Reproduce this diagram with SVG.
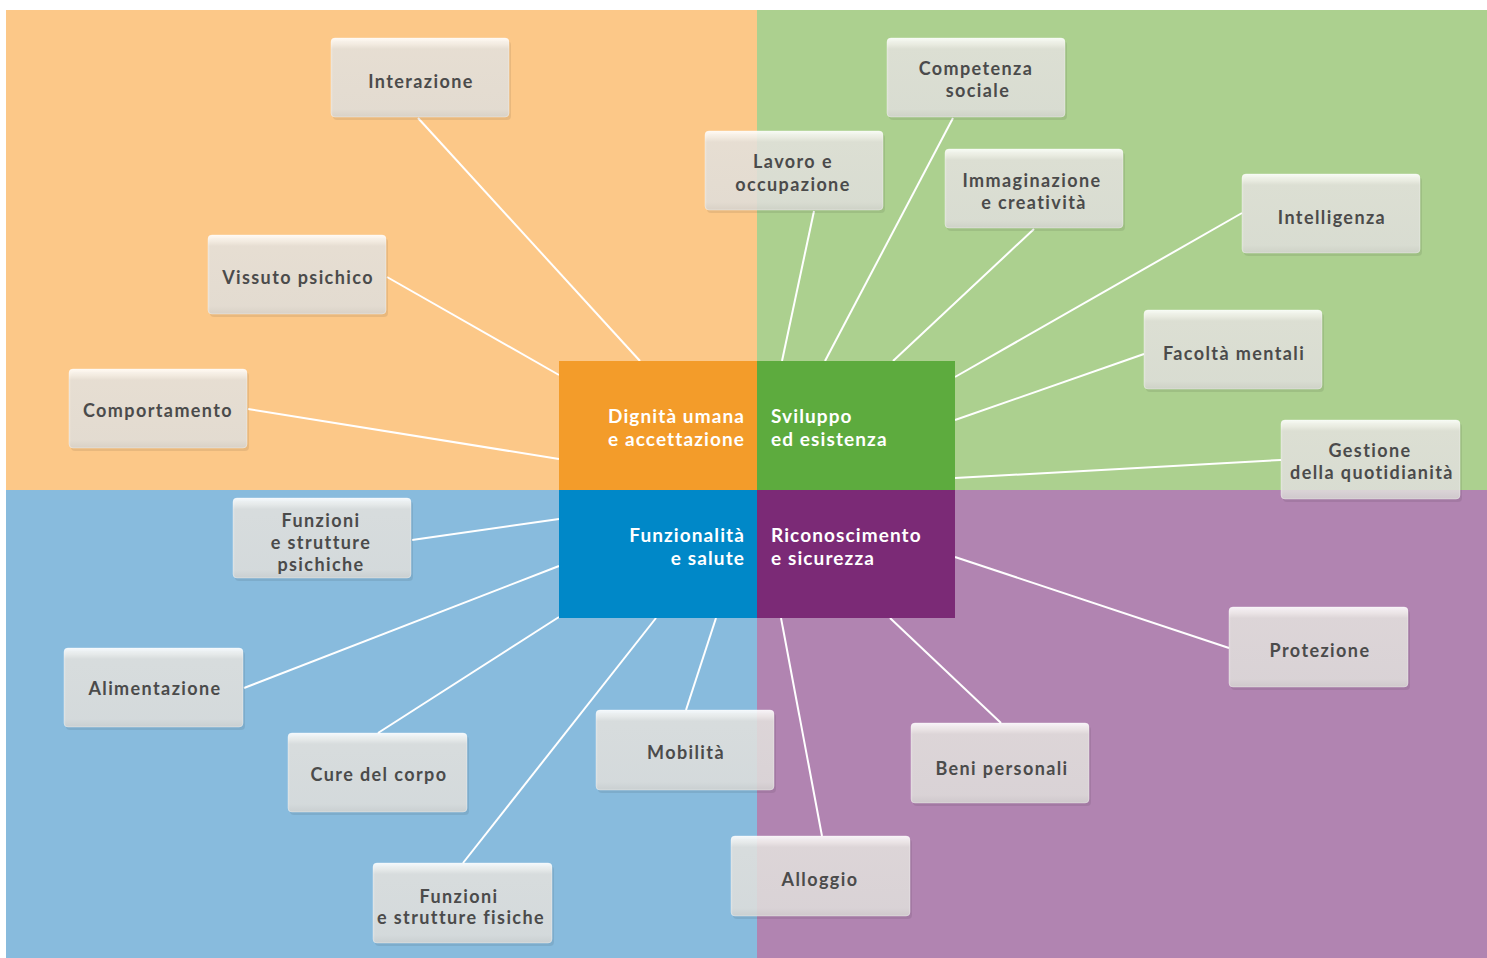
<svg xmlns="http://www.w3.org/2000/svg" width="1487" height="958" viewBox="0 0 1487 958">
<defs>
<linearGradient id="bx" x1="0" y1="0" x2="0" y2="1">
<stop offset="0" stop-color="#ffffff" stop-opacity="0.9"/>
<stop offset="0.08" stop-color="#f4f2ee" stop-opacity="0.88"/>
<stop offset="0.14" stop-color="#e6e4e0" stop-opacity="0.86"/>
<stop offset="0.9" stop-color="#e2e1de" stop-opacity="0.86"/>
<stop offset="1" stop-color="#d6d5d2" stop-opacity="0.86"/>
</linearGradient>
<style>
.bx{fill:url(#bx);stroke:#ffffff;stroke-opacity:0.35;stroke-width:1}
.sh{fill:#000;opacity:0.08}
.t{font-family:Lato,"Open Sans","Liberation Sans",sans-serif;font-weight:700;font-size:18px;letter-spacing:1.4px;fill:#4b4b4b;text-anchor:middle}
.c{font-family:Lato,"Open Sans","Liberation Sans",sans-serif;font-weight:700;font-size:19px;letter-spacing:1.1px;fill:#ffffff}
.r{text-anchor:end}
.ln{stroke:#ffffff;stroke-width:2;fill:none}
</style>
</defs>
<rect x="0" y="0" width="1487" height="958" fill="#ffffff"/>
<g id="background">
<rect x="6" y="10" width="751" height="480" fill="#fcc888"/>
<rect x="757" y="10" width="730" height="480" fill="#acd08f"/>
<rect x="6" y="490" width="751" height="468" fill="#88bbdd"/>
<rect x="757" y="490" width="730" height="468" fill="#b184b1"/>
</g>
<g id="connectors">
<line class="ln" x1="418" y1="118" x2="640" y2="361"/>
<line class="ln" x1="387" y1="277" x2="559" y2="375"/>
<line class="ln" x1="248" y1="409" x2="559" y2="459"/>
<line class="ln" x1="814" y1="211" x2="782" y2="361"/>
<line class="ln" x1="953" y1="118" x2="825" y2="361"/>
<line class="ln" x1="1034" y1="229" x2="893" y2="361"/>
<line class="ln" x1="1242" y1="213" x2="955" y2="377"/>
<line class="ln" x1="1144" y1="354" x2="955" y2="420"/>
<line class="ln" x1="1281" y1="460" x2="955" y2="478"/>
<line class="ln" x1="412" y1="540" x2="559" y2="519"/>
<line class="ln" x1="244" y1="688" x2="559" y2="566"/>
<line class="ln" x1="378" y1="733" x2="559" y2="617"/>
<line class="ln" x1="463" y1="863" x2="656" y2="618"/>
<line class="ln" x1="686" y1="710" x2="716" y2="618"/>
<line class="ln" x1="822" y1="836" x2="781" y2="618"/>
<line class="ln" x1="1001" y1="723" x2="890" y2="618"/>
<line class="ln" x1="1229" y1="648" x2="955" y2="557"/>
</g>
<g id="center">
<rect x="559" y="361" width="198" height="129" fill="#f39c2a"/>
<rect x="757" y="361" width="198" height="129" fill="#5dab3e"/>
<rect x="559" y="490" width="198" height="128" fill="#0088c8"/>
<rect x="757" y="490" width="198" height="128" fill="#7b2a76"/>
<text class="c r" x="745" y="423">Dignità umana</text>
<text class="c r" x="745" y="446">e accettazione</text>
<text class="c" x="771" y="423">Sviluppo</text>
<text class="c" x="771" y="446">ed esistenza</text>
<text class="c r" x="745" y="542">Funzionalità</text>
<text class="c r" x="745" y="565">e salute</text>
<text class="c" x="771" y="542">Riconoscimento</text>
<text class="c" x="771" y="565">e sicurezza</text>
</g>
<g id="n-interazione"><rect class="sh" x="333" y="41" width="178" height="79" rx="4"/><rect class="bx" x="331" y="38" width="178" height="79" rx="4"/><text class="t" x="421" y="88">Interazione</text></g>
<g id="n-competenza"><rect class="sh" x="889" y="41" width="178" height="79" rx="4"/><rect class="bx" x="887" y="38" width="178" height="79" rx="4"/><text class="t" x="976" y="75">Competenza</text><text class="t" x="978" y="97">sociale</text></g>
<g id="n-lavoro"><rect class="sh" x="707" y="134" width="178" height="79" rx="4"/><rect class="bx" x="705" y="131" width="178" height="79" rx="4"/><text class="t" x="793" y="168">Lavoro e</text><text class="t" x="793" y="191">occupazione</text></g>
<g id="n-immaginazione"><rect class="sh" x="947" y="152" width="178" height="79" rx="4"/><rect class="bx" x="945" y="149" width="178" height="79" rx="4"/><text class="t" x="1032" y="187">Immaginazione</text><text class="t" x="1034" y="209">e creatività</text></g>
<g id="n-intelligenza"><rect class="sh" x="1244" y="177" width="178" height="79" rx="4"/><rect class="bx" x="1242" y="174" width="178" height="79" rx="4"/><text class="t" x="1332" y="224">Intelligenza</text></g>
<g id="n-vissuto"><rect class="sh" x="210" y="238" width="178" height="79" rx="4"/><rect class="bx" x="208" y="235" width="178" height="79" rx="4"/><text class="t" x="298" y="284">Vissuto psichico</text></g>
<g id="n-facolta"><rect class="sh" x="1146" y="313" width="178" height="79" rx="4"/><rect class="bx" x="1144" y="310" width="178" height="79" rx="4"/><text class="t" x="1234" y="360">Facoltà mentali</text></g>
<g id="n-comportamento"><rect class="sh" x="71" y="372" width="178" height="79" rx="4"/><rect class="bx" x="69" y="369" width="178" height="79" rx="4"/><text class="t" x="158" y="417">Comportamento</text></g>
<g id="n-gestione"><rect class="sh" x="1283" y="423" width="179" height="79" rx="4"/><rect class="bx" x="1281" y="420" width="179" height="79" rx="4"/><text class="t" x="1370" y="457">Gestione</text><text class="t" x="1372" y="479">della quotidianità</text></g>
<g id="n-psichiche"><rect class="sh" x="235" y="501" width="178" height="80" rx="4"/><rect class="bx" x="233" y="498" width="178" height="80" rx="4"/><text class="t" x="321" y="527">Funzioni</text><text class="t" x="321" y="549">e strutture</text><text class="t" x="321" y="571">psichiche</text></g>
<g id="n-protezione"><rect class="sh" x="1231" y="610" width="179" height="80" rx="4"/><rect class="bx" x="1229" y="607" width="179" height="80" rx="4"/><text class="t" x="1320" y="657">Protezione</text></g>
<g id="n-alimentazione"><rect class="sh" x="66" y="651" width="179" height="79" rx="4"/><rect class="bx" x="64" y="648" width="179" height="79" rx="4"/><text class="t" x="155" y="695">Alimentazione</text></g>
<g id="n-mobilita"><rect class="sh" x="598" y="713" width="178" height="80" rx="4"/><rect class="bx" x="596" y="710" width="178" height="80" rx="4"/><text class="t" x="686" y="759">Mobilità</text></g>
<g id="n-cure"><rect class="sh" x="290" y="736" width="179" height="79" rx="4"/><rect class="bx" x="288" y="733" width="179" height="79" rx="4"/><text class="t" x="379" y="781">Cure del corpo</text></g>
<g id="n-beni"><rect class="sh" x="913" y="726" width="178" height="80" rx="4"/><rect class="bx" x="911" y="723" width="178" height="80" rx="4"/><text class="t" x="1002" y="775">Beni personali</text></g>
<g id="n-alloggio"><rect class="sh" x="733" y="839" width="179" height="80" rx="4"/><rect class="bx" x="731" y="836" width="179" height="80" rx="4"/><text class="t" x="820" y="886">Alloggio</text></g>
<g id="n-fisiche"><rect class="sh" x="375" y="866" width="179" height="80" rx="4"/><rect class="bx" x="373" y="863" width="179" height="80" rx="4"/><text class="t" x="459" y="903">Funzioni</text><text class="t" x="461" y="924">e strutture fisiche</text></g>
</svg>
